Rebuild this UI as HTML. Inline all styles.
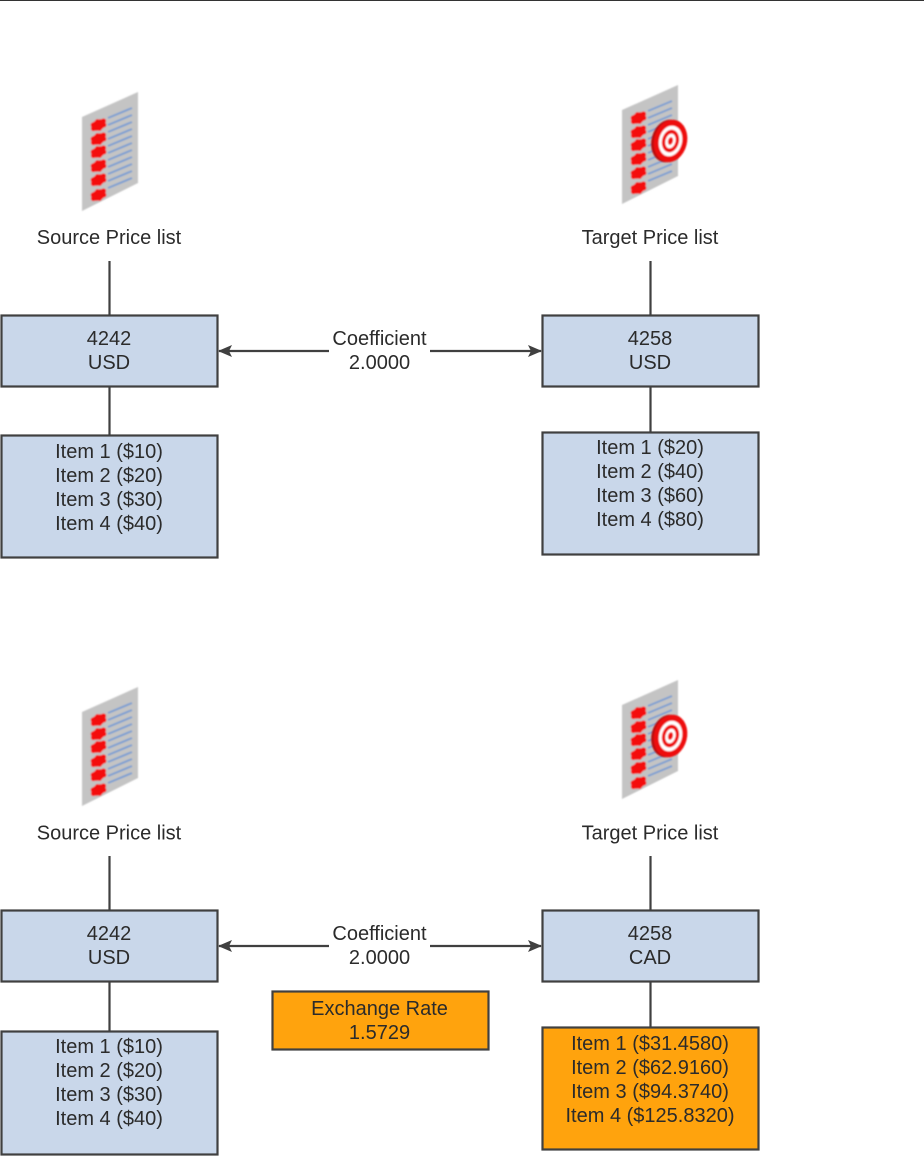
<!DOCTYPE html>
<html>
<head>
<meta charset="utf-8">
<style>
html,body{margin:0;padding:0;background:#fff;width:924px;height:1156px;overflow:hidden}
svg{display:block}
text{font-family:"Liberation Sans",sans-serif;font-size:20px;fill:#2b2b2b;text-anchor:middle;transform:translateY(1px)}
.b{fill:#c9d7ea;stroke:#404040;stroke-width:2.2}
.o{fill:#ffa30d;stroke:#404040;stroke-width:2.2}
.l{stroke:#404040;stroke-width:2.2;fill:none}
</style>
</head>
<body>
<svg width="924" height="1156" viewBox="0 0 924 1156" xmlns="http://www.w3.org/2000/svg">
<defs>
<filter id="bl" x="-10%" y="-10%" width="120%" height="120%"><feGaussianBlur stdDeviation="0.8"/></filter>
<g id="bul">
<ellipse cx="0" cy="0" rx="7.500" ry="5.200" transform="rotate(-25)"/>
<circle cx="-5" cy="0" r="2.800"/><circle cx="-1" cy="-3.500" r="2.400"/><circle cx="5" cy="-4" r="2.600"/>
<circle cx="5.500" cy="0" r="2.400"/><circle cx="1" cy="3.500" r="2.400"/><circle cx="-5" cy="3.500" r="2.600"/>
</g>
<g id="doc" filter="url(#bl)">
<polygon points="82,117 138,92 138,183 82,211" fill="#c4c4c4"/>
<g stroke="#7d9fd2" stroke-width="2" fill="none">
<path d="M108,118L132,108M108,125L132,115M108,132L132,122M108,139L132,129M108,146L132,136M108,153L132,143M108,160L132,150M108,167L132,157M108,174L132,164M108,181L132,171M108,188L132,178"/>
</g>
<g fill="#f41010">
<use href="#bul" x="98.500" y="125"/>
<use href="#bul" x="98.500" y="139"/>
<use href="#bul" x="98.500" y="152"/>
<use href="#bul" x="98.500" y="166"/>
<use href="#bul" x="98.500" y="180"/>
<use href="#bul" x="98.500" y="195"/>
</g>
</g>
<g id="target" filter="url(#bl)">
<ellipse cx="667.500" cy="141" rx="16" ry="21.500" transform="rotate(14 667.500 141)" fill="#b80c0c"/>
<ellipse cx="670.500" cy="141" rx="16.500" ry="21.500" transform="rotate(14 670.500 141)" fill="#ee1111"/>
<ellipse cx="670.500" cy="141" rx="11.500" ry="15.500" transform="rotate(14 670.500 141)" fill="#fff"/>
<ellipse cx="670.500" cy="141" rx="8.500" ry="11.500" transform="rotate(14 670.500 141)" fill="#ee1111"/>
<ellipse cx="670.500" cy="141" rx="5" ry="7.500" transform="rotate(14 670.500 141)" fill="#fff"/>
<ellipse cx="670.500" cy="141" rx="2.500" ry="4" transform="rotate(14 670.500 141)" fill="#ee1111"/>
</g>
<marker id="ah" viewBox="0 0 14 12" refX="13" refY="6" markerWidth="14" markerHeight="12" markerUnits="userSpaceOnUse" orient="auto-start-reverse"><path d="M0,0L14,6L0,12L3,6Z" fill="#404040"/></marker>
</defs>

<rect x="0" y="0" width="924" height="1" fill="#333"/>

<!-- top diagram -->
<use href="#doc"/>
<use href="#doc" x="540" y="-7"/>
<use href="#target"/>
<text x="109" y="243">Source Price list</text>
<text x="650" y="243">Target Price list</text>
<path class="l" d="M109.500,261V315M650.500,261V315M109.500,387V435M650.500,387V432"/>
<rect class="b" x="1.500" y="315.500" width="216" height="71"/>
<rect class="b" x="542.500" y="315.500" width="216" height="71"/>
<rect class="b" x="1.500" y="435.500" width="216" height="122"/>
<rect class="b" x="542.500" y="432.500" width="216" height="122"/>
<path class="l" d="M219,351H329" marker-start="url(#ah)"/>
<path class="l" d="M430,351H541" marker-end="url(#ah)"/>
<text x="109" y="344">4242</text><text x="109" y="368">USD</text>
<text x="650" y="344">4258</text><text x="650" y="368">USD</text>
<text x="379.500" y="344">Coefficient</text><text x="379.500" y="368">2.0000</text>
<text x="109" y="457">Item 1 ($10)</text><text x="109" y="481">Item 2 ($20)</text><text x="109" y="505">Item 3 ($30)</text><text x="109" y="529">Item 4 ($40)</text>
<text x="650" y="453">Item 1 ($20)</text><text x="650" y="477">Item 2 ($40)</text><text x="650" y="501">Item 3 ($60)</text><text x="650" y="525">Item 4 ($80)</text>

<!-- bottom diagram -->
<use href="#doc" y="595"/>
<use href="#doc" x="540" y="588"/>
<use href="#target" y="595"/>
<text x="109" y="838.500">Source Price list</text>
<text x="650" y="838.500">Target Price list</text>
<path class="l" d="M109.500,856V910M650.500,856V910M109.500,982V1031M650.500,982V1027"/>
<rect class="b" x="1.500" y="910.500" width="216" height="71"/>
<rect class="b" x="542.500" y="910.500" width="216" height="71"/>
<rect class="b" x="1.500" y="1031.500" width="216" height="123"/>
<rect class="o" x="542.500" y="1027.500" width="216" height="122"/>
<rect class="o" x="272.500" y="991.500" width="216" height="58"/>
<path class="l" d="M219,946H329" marker-start="url(#ah)"/>
<path class="l" d="M430,946H541" marker-end="url(#ah)"/>
<text x="109" y="939">4242</text><text x="109" y="963">USD</text>
<text x="650" y="939">4258</text><text x="650" y="963">CAD</text>
<text x="379.500" y="939">Coefficient</text><text x="379.500" y="963">2.0000</text>
<text x="379.500" y="1014">Exchange Rate</text><text x="379.500" y="1038">1.5729</text>
<text x="109" y="1052">Item 1 ($10)</text><text x="109" y="1076">Item 2 ($20)</text><text x="109" y="1100">Item 3 ($30)</text><text x="109" y="1124">Item 4 ($40)</text>
<text x="650" y="1049">Item 1 ($31.4580)</text><text x="650" y="1073">Item 2 ($62.9160)</text><text x="650" y="1097">Item 3 ($94.3740)</text><text x="650" y="1121">Item 4 ($125.8320)</text>
</svg>
</body>
</html>
